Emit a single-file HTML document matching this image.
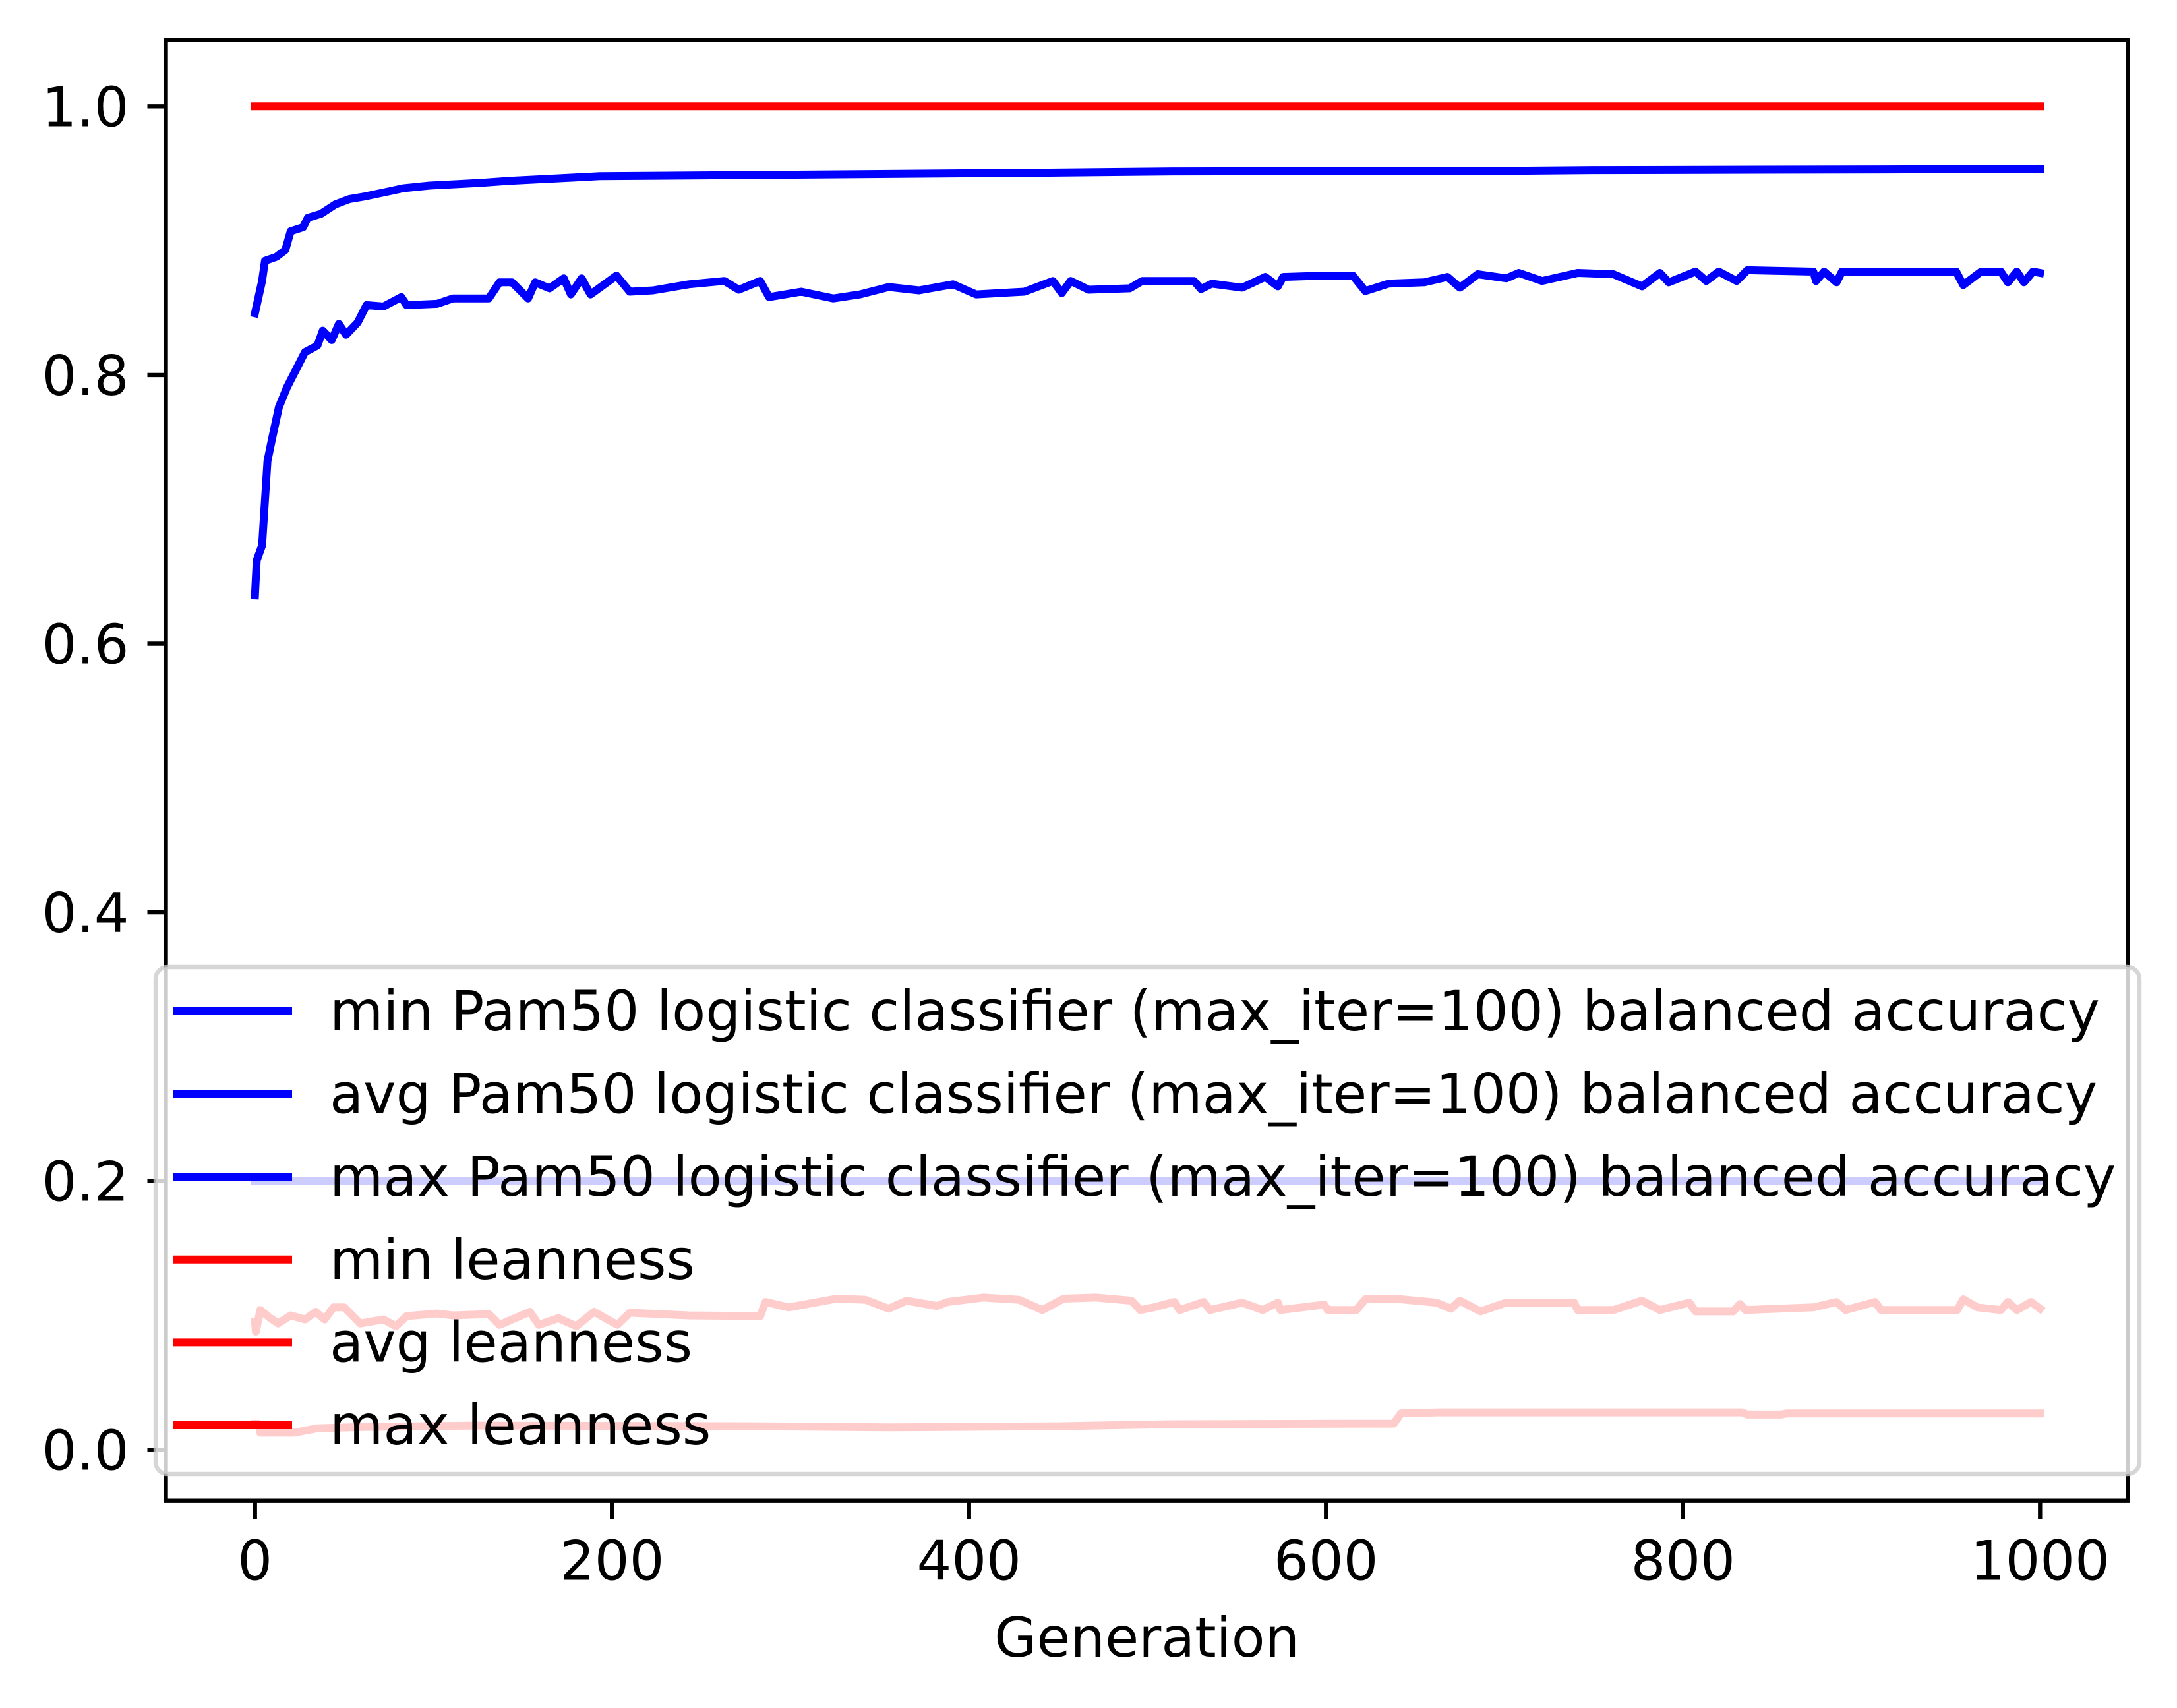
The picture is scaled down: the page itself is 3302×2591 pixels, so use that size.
<!DOCTYPE html>
<html><head><meta charset="utf-8"><style>
html,body{margin:0;padding:0;background:#fff;}
svg{display:block;font-family:"DejaVu Sans","Liberation Sans",sans-serif;}
</style></head><body>
<svg id="chart" width="3302" height="2591" viewBox="0 0 3302 2591" xmlns="http://www.w3.org/2000/svg">
<rect x="0" y="0" width="3302" height="2591" fill="#fff"/>
<g id="lines"></g>
<g id="axes"></g>
<g id="legend"></g>
</svg>
<script>
const xTicks = [0, 200, 400, 600, 800, 1000];
const xTickLabels = ["0", "200", "400", "600", "800", "1000"];
const yTicks = [0.0, 0.2, 0.4, 0.6, 0.8, 1.0];
const yTickLabels = ["0.0", "0.2", "0.4", "0.6", "0.8", "1.0"];

const maxAccGen = [0,4,5.6,12,17,20,27,29.6,37,45,53,62,76,83,98,126,142,164,193,436,517,707,751,913,1000];
const maxAccVal = [0.846,0.870,0.885,0.888,0.893,0.907,0.910,0.917,0.920,0.927,0.931,0.933,0.937,0.939,0.941,0.943,0.9445,0.946,0.948,0.9505,0.9515,0.952,0.9525,0.953,0.9535];

const avgAccGen = [0,1,4,7,9.5,13.4,18,23,28,35,38,43,47,51,57.5,62.5,72,82,85,102,111,131,137,144,153,157,165,173,177,183,188,202.5,210,223,243,263,271,283,288,306,324,339,355,372,391,404,431,447,452,457,467,490,497,513,526,530,536,553,566,573,576,599,615,622,635,655,668,675,685,701,708,721,741,761,777,787,792,807,813,820,830,836,873,874.5,879,886,889,909,953,957,967,978,982,987,991,996,1000];
const avgAccVal = [0.636,0.662,0.673,0.736,0.752,0.776,0.791,0.804,0.817,0.822,0.833,0.826,0.838,0.830,0.839,0.852,0.851,0.858,0.852,0.853,0.857,0.857,0.869,0.869,0.857,0.869,0.8645,0.872,0.860,0.872,0.860,0.874,0.862,0.863,0.8675,0.870,0.8635,0.870,0.858,0.862,0.857,0.860,0.8655,0.863,0.8675,0.860,0.862,0.870,0.861,0.870,0.8635,0.8645,0.870,0.870,0.870,0.864,0.868,0.865,0.873,0.866,0.873,0.874,0.874,0.8625,0.868,0.869,0.873,0.865,0.875,0.872,0.876,0.870,0.876,0.875,0.866,0.876,0.869,0.877,0.870,0.877,0.870,0.878,0.877,0.870,0.877,0.869,0.877,0.877,0.877,0.867,0.877,0.877,0.869,0.877,0.869,0.877,0.876];

const minAccGen = [0,1000];
const minAccVal = [0.2,0.2];

const maxLeanGen = [0,1000];
const maxLeanVal = [1.0,1.0];

const avgLeanGen = [0,0.5,3,8,13,20,28,34,39,44,50,59,72,79,85,102,111,131,137,154,159,170,180,190,203,210,243,283,286,299,326,342,355,365,382,388,408,428,441,453,471,491,496,503.5,515,518,531.5,535,553,564.5,573,574.5,599,601,617,622,642,662,670,675,686.5,701,739,741,761,777,787,803.5,807,828,832,835,873,886,891,907.5,911,953.6,957,965,978,982,987,995,1000];
const avgLeanVal = [0.0953,0.088,0.104,0.0986,0.094,0.100,0.097,0.1027,0.097,0.106,0.106,0.094,0.097,0.092,0.0995,0.1014,0.100,0.101,0.093,0.1027,0.093,0.098,0.092,0.1027,0.093,0.102,0.100,0.0995,0.110,0.106,0.1125,0.1117,0.105,0.111,0.107,0.110,0.1133,0.1117,0.104,0.1125,0.1133,0.111,0.104,0.106,0.110,0.104,0.110,0.104,0.1095,0.104,0.1095,0.104,0.108,0.104,0.104,0.112,0.112,0.1095,0.105,0.111,0.103,0.1095,0.1095,0.104,0.104,0.111,0.104,0.1095,0.103,0.103,0.1085,0.104,0.106,0.110,0.104,0.110,0.104,0.104,0.112,0.106,0.104,0.110,0.104,0.110,0.105];

const minLeanGen = [0,2,3,22,35,60,125,280,355,450,510,550,638,642,663,833,836,855,858,1000];
const minLeanVal = [0.0193,0.0193,0.0127,0.0127,0.016,0.017,0.018,0.0175,0.0167,0.0175,0.019,0.0192,0.0195,0.0271,0.0278,0.0278,0.0262,0.0262,0.027,0.027];

const legendLabels = ["min Pam50 logistic classifier (max_iter=100) balanced accuracy","avg Pam50 logistic classifier (max_iter=100) balanced accuracy","max Pam50 logistic classifier (max_iter=100) balanced accuracy","min leanness","avg leanness","max leanness"];

const NS = "http://www.w3.org/2000/svg";
const AX = {left:251.5, right:3227.7, top:60.3, bottom:2276.7};
function xScale(g){ return 386.7 + (g - 0) * (3094.3 - 386.7) / 1000; }
function yScale(v){ return 2199.3 - v * (2199.3 - 161.3) / 1.0; }
function mk(tag, attrs, parent){
  const e = document.createElementNS(NS, tag);
  for (const k in attrs) e.setAttribute(k, attrs[k]);
  parent.appendChild(e);
  return e;
}
const gLines = document.getElementById('lines');
const gAxes = document.getElementById('axes');
const gLeg = document.getElementById('legend');

function drawSeries(gens, vals, color, name){
  let d = "";
  for (let i = 0; i < gens.length; i++) {
    d += (i ? "L" : "M") + xScale(gens[i]).toFixed(1) + " " + yScale(vals[i]).toFixed(1);
  }
  const p = mk('path', {d:d, fill:'none', stroke:color, 'stroke-width':12, 'stroke-linejoin':'round', 'stroke-linecap':'square'}, gLines);
  
  
}
drawSeries(minAccGen, minAccVal, '#0000ff', 'min-accuracy-line');
drawSeries(avgAccGen, avgAccVal, '#0000ff', 'avg-accuracy-line');
drawSeries(maxAccGen, maxAccVal, '#0000ff', 'max-accuracy-line');
drawSeries(minLeanGen, minLeanVal, '#ff0000', 'min-leanness-line');
drawSeries(avgLeanGen, avgLeanVal, '#ff0000', 'avg-leanness-line');
drawSeries(maxLeanGen, maxLeanVal, '#ff0000', 'max-leanness-line');

const frame = mk('rect', {x:AX.left, y:AX.top, width:AX.right-AX.left, height:AX.bottom-AX.top, fill:'none', stroke:'#000', 'stroke-width':6.4}, gAxes);



xTicks.forEach((t, i) => {
  const x = xScale(t);
  const tk = mk('line', {x1:x, x2:x, y1:AX.bottom, y2:AX.bottom+28, stroke:'#000', 'stroke-width':6.4}, gAxes);
  
  
  const tx = mk('text', {x:x, y:AX.bottom+120, 'text-anchor':'middle', 'font-size':83, fill:'#000'}, gAxes);
  tx.textContent = xTickLabels[i];
  
  
});
yTicks.forEach((t, i) => {
  const y = yScale(t);
  const tk = mk('line', {x1:AX.left-28, x2:AX.left, y1:y, y2:y, stroke:'#000', 'stroke-width':6.4}, gAxes);
  
  
  const tx = mk('text', {x:AX.left-56, y:y+30, 'text-anchor':'end', 'font-size':83, fill:'#000'}, gAxes);
  tx.textContent = yTickLabels[i];
  
  
});
const xt = mk('text', {x:(AX.left+AX.right)/2, y:2513, 'text-anchor':'middle', 'font-size':83, fill:'#000'}, gAxes);
xt.textContent = 'Generation';



const box = mk('rect', {x:236, y:1467, width:3009, height:769, rx:18, ry:18, fill:'rgba(255,255,255,0.8)', stroke:'rgba(204,204,204,0.8)', 'stroke-width':6.4}, gLeg);


const legColors = ['#0000ff','#0000ff','#0000ff','#ff0000','#ff0000','#ff0000'];
legendLabels.forEach((lab, i) => {
  const y = 1534 + i * 125.6;
  const ln = mk('line', {x1:263, x2:443, y1:y, y2:y, stroke:legColors[i], 'stroke-width':12}, gLeg);
  
  
  const tx = mk('text', {x:500, y:y+29, 'font-size':83.5, fill:'#000'}, gLeg);
  tx.textContent = lab;
  
  
});
</script>
</body></html>
